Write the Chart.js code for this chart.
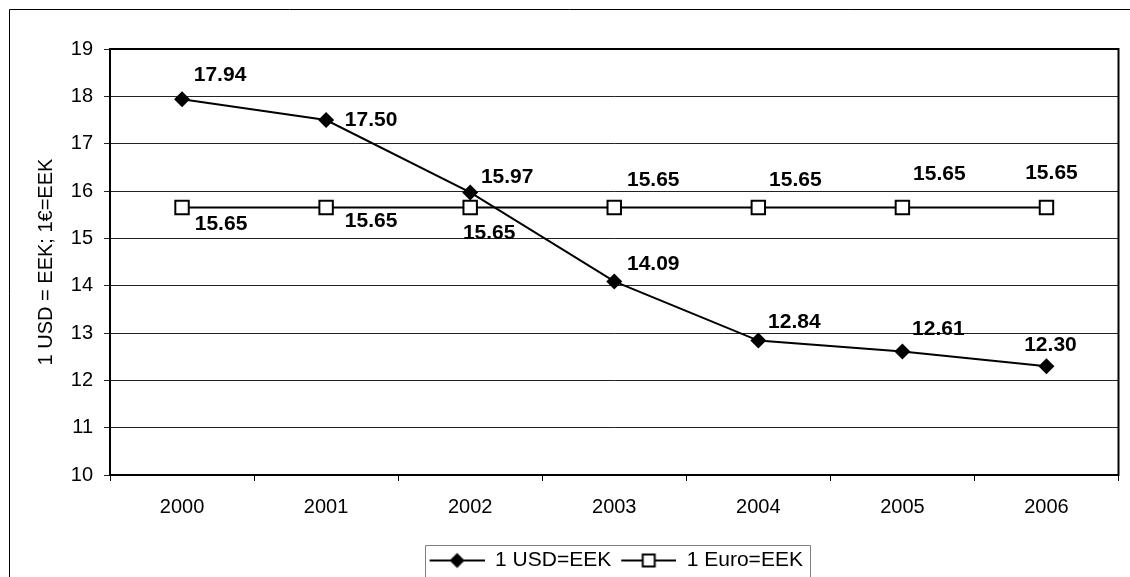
<!DOCTYPE html>
<html>
<head>
<meta charset="utf-8">
<script src="https://cdn.jsdelivr.net/npm/chart.js@4"></script>
<style>
  html, body { margin: 0; padding: 0; background: #fff; }
  #wrap { width: 1130px; height: 577px; }
</style>
</head>
<body>
<div id="wrap"><canvas id="rateChart"></canvas></div>
<script>
// values
const years = ['2000', '2001', '2002', '2003', '2004', '2005', '2006'];
const usdRates = [17.94, 17.50, 15.97, 14.09, 12.84, 12.61, 12.30];
const euroRates = [15.65, 15.65, 15.65, 15.65, 15.65, 15.65, 15.65];
const seriesNames = ['1 USD=EEK', '1 Euro=EEK'];
const axisTitle = '1 USD = EEK; 1\u20AC=EEK';

// where each value label sits relative to its point (label centre, px)
const usdLabelOffsets = [[38, -24], [45, 0], [37, -15], [39, -17], [36, -18], [36, -22], [4, -21]];
const euroLabelOffsets = [[39, 17], [45, 14], [19, 26], [39, -27], [37, -27], [37, -33], [5, -34]];

const FONT = "'Liberation Sans', Arial, sans-serif";
Chart.defaults.font.family = FONT;
Chart.defaults.color = '#000';

const LEGEND_PAD = 6;
const LEGEND_FONT = 21;
const BOTTOM_PAD = -4; // lets the legend sit a little lower, its frame is cut by the page edge
// chart.js makes a bottom legend padding + font size + 10 tall
const LEGEND_H = LEGEND_PAD + LEGEND_FONT + 10;
const X_AXIS_H = 577 - BOTTOM_PAD - 475 - LEGEND_H;

// legend symbol: line with the series marker, blank gap on the left
function legendIcon(kind) {
  const c = document.createElement('canvas');
  c.width = 59;
  c.height = 18;
  const g = c.getContext('2d');
  g.strokeStyle = '#000';
  g.lineWidth = 2;
  g.beginPath();
  g.moveTo(4, 9);
  g.lineTo(59, 9);
  g.stroke();
  if (kind === 'diamond') {
    g.fillStyle = '#000';
    g.beginPath();
    g.moveTo(31.5, 1.5);
    g.lineTo(39, 9);
    g.lineTo(31.5, 16.5);
    g.lineTo(24, 9);
    g.closePath();
    g.fill();
  } else {
    g.fillStyle = '#fff';
    g.fillRect(25.5, 3, 12, 12);
    g.strokeRect(25.5, 3, 12, 12);
  }
  return c;
}
const icons = [legendIcon('diamond'), legendIcon('square')];

const chartDecor = {
  id: 'chartDecor',
  beforeDraw(chart) {
    const ctx = chart.ctx;
    ctx.save();
    ctx.fillStyle = '#fff';
    ctx.fillRect(0, 0, chart.width, chart.height);
    // outer frame (cut off at right and bottom)
    ctx.strokeStyle = '#000';
    ctx.lineWidth = 1;
    ctx.beginPath();
    ctx.moveTo(9.5, chart.height);
    ctx.lineTo(9.5, 9.5);
    ctx.lineTo(chart.width, 9.5);
    ctx.stroke();
    ctx.restore();
  },
  beforeDatasetsDraw(chart) {
    const {ctx, chartArea: a} = chart;
    ctx.save();
    ctx.strokeStyle = '#000';
    ctx.lineWidth = 2;
    ctx.strokeRect(a.left, a.top, a.right - a.left, a.bottom - a.top);
    ctx.restore();
  },
  afterDraw(chart) {
    const ctx = chart.ctx;
    ctx.save();
    // value labels
    ctx.font = 'bold 21px ' + FONT;
    ctx.fillStyle = '#000';
    ctx.textAlign = 'center';
    ctx.textBaseline = 'middle';
    const offsets = [usdLabelOffsets, euroLabelOffsets];
    chart.data.datasets.forEach((ds, i) => {
      chart.getDatasetMeta(i).data.forEach((pt, j) => {
        const off = offsets[i][j];
        ctx.fillText(ds.data[j].toFixed(2), pt.x + off[0], pt.y + off[1]);
      });
    });
    // legend frame
    const boxes = chart.legend.legendHitBoxes;
    if (boxes && boxes.length) {
      const first = boxes[0];
      const last = boxes[boxes.length - 1];
      const midY = first.top + first.height / 2;
      ctx.strokeStyle = '#808080';
      ctx.lineWidth = 1;
      ctx.beginPath();
      const l = Math.round(first.left - 1) + 0.5;
      const r = Math.round(last.left + last.width + 7) + 0.5;
      const t = Math.round(midY - 16) + 0.5;
      ctx.moveTo(l, chart.height);
      ctx.lineTo(l, t);
      ctx.lineTo(r, t);
      ctx.lineTo(r, chart.height);
      ctx.stroke();
    }
    ctx.restore();
  }
};

new Chart(document.getElementById('rateChart'), {
  type: 'line',
  data: {
    labels: years,
    datasets: [
      {
        label: seriesNames[0],
        data: usdRates,
        borderColor: '#000',
        backgroundColor: '#000',
        borderWidth: 2,
        tension: 0,
        pointStyle: 'rectRot',
        pointRadius: 8,
        pointBorderWidth: 0
      },
      {
        label: seriesNames[1],
        data: euroRates,
        borderColor: '#000',
        backgroundColor: '#fff',
        borderWidth: 2,
        tension: 0,
        pointStyle: 'rect',
        pointRadius: 9.5,
        pointBorderWidth: 2
      }
    ]
  },
  options: {
    responsive: true,
    maintainAspectRatio: false,
    animation: false,
    events: [],
    layout: { padding: { top: 49, right: 10, left: 0, bottom: BOTTOM_PAD } },
    plugins: {
      tooltip: { enabled: false },
      legend: {
        position: 'bottom',
        fullSize: false,
        align: 'center',
        labels: {
          usePointStyle: true,
          pointStyleWidth: 59,
          padding: LEGEND_PAD,
          color: '#000',
          font: { size: LEGEND_FONT },
          generateLabels(chart) {
            return chart.data.datasets.map((ds, i) => ({
              text: ds.label,
              pointStyle: icons[i],
              fillStyle: '#000',
              strokeStyle: '#000',
              lineWidth: 0,
              fontColor: '#000',
              datasetIndex: i
            }));
          }
        }
      }
    },
    scales: {
      x: {
        offset: true,
        grid: { offset: true, drawOnChartArea: false, drawTicks: true, tickLength: 6, color: '#000' },
        border: { color: '#000', width: 2 },
        ticks: { font: { size: 20 }, color: '#000', padding: 14, maxRotation: 0 },
        afterFit(s) { s.height = X_AXIS_H; }
      },
      y: {
        min: 10,
        max: 19,
        ticks: { stepSize: 1, font: { size: 20 }, color: '#000', padding: 11 },
        grid: { color: '#222', tickLength: 6 },
        border: { color: '#000', width: 2 },
        title: {
          display: true,
          text: axisTitle,
          font: { size: 20 },
          color: '#000',
          padding: { top: 34, bottom: 0 }
        },
        afterFit(s) { s.width = 110; }
      }
    }
  },
  plugins: [chartDecor]
});
</script>
</body>
</html>
